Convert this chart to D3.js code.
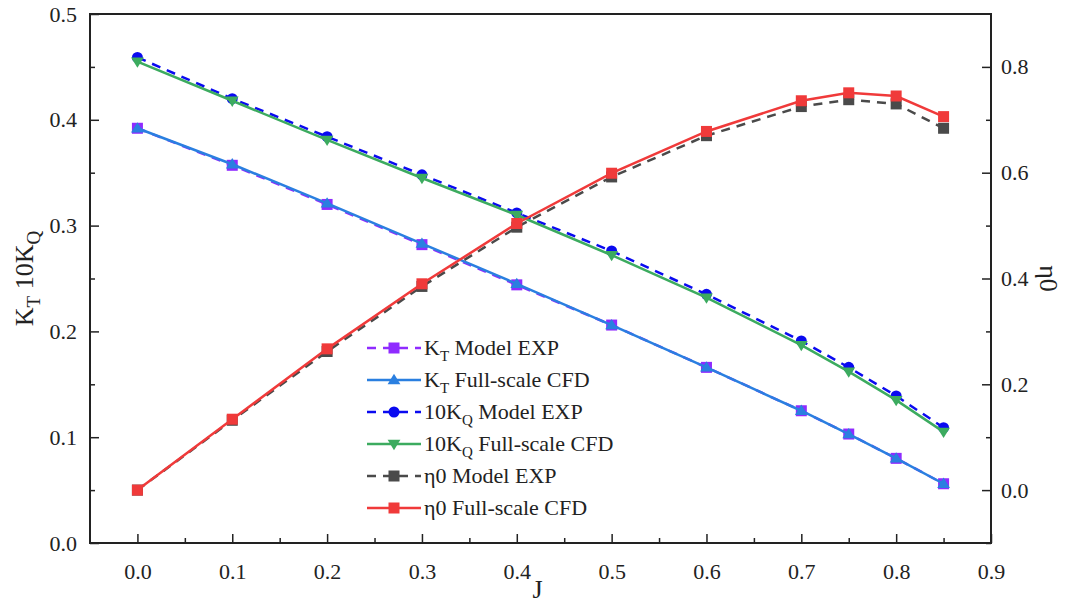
<!DOCTYPE html>
<html>
<head>
<meta charset="utf-8">
<script src="https://cdn.jsdelivr.net/npm/d3@7"></script>
</head>
<body style="margin:0;background:#fff">
<svg id="chart" width="1065" height="603"></svg>
<script>
// data
const J = [0, 0.1, 0.2, 0.3, 0.4, 0.5, 0.6, 0.7, 0.75, 0.8, 0.85];
const ktExp = [0.392, 0.357, 0.320, 0.282, 0.244, 0.206, 0.166, 0.125, 0.103, 0.080, 0.056];
const ktCfd = [0.392, 0.358, 0.321, 0.283, 0.245, 0.206, 0.166, 0.125, 0.103, 0.080, 0.056];
const kqExp = [0.459, 0.420, 0.384, 0.348, 0.312, 0.276, 0.235, 0.191, 0.166, 0.139, 0.109];
const kqCfd = [0.455, 0.418, 0.381, 0.345, 0.310, 0.272, 0.232, 0.187, 0.162, 0.135, 0.105];
const etaExp = [0.000, 0.132, 0.262, 0.385, 0.497, 0.592, 0.670, 0.725, 0.738, 0.730, 0.684];
const etaCfd = [0.000, 0.134, 0.267, 0.390, 0.504, 0.599, 0.678, 0.736, 0.751, 0.745, 0.706];

const xTicks = [0, 0.1, 0.2, 0.3, 0.4, 0.5, 0.6, 0.7, 0.8, 0.9];
const yTicks = [0, 0.1, 0.2, 0.3, 0.4, 0.5];
const y2Ticks = [0, 0.2, 0.4, 0.6, 0.8];

const series = [
  {label: ["K", "T", " Model EXP"], vals: ktExp, axis: "left", color: "#8f2bff", dash: "9,7", marker: "square"},
  {label: ["K", "T", " Full-scale CFD"], vals: ktCfd, axis: "left", color: "#2a7fe0", dash: null, marker: "up"},
  {label: ["10K", "Q", " Model EXP"], vals: kqExp, axis: "left", color: "#0a0af0", dash: "9,7", marker: "circle"},
  {label: ["10K", "Q", " Full-scale CFD"], vals: kqCfd, axis: "left", color: "#3cab5f", dash: null, marker: "down"},
  {label: ["\u03b70", "", " Model EXP"], vals: etaExp, axis: "right", color: "#4a4a4a", dash: "9,7", marker: "square"},
  {label: ["\u03b70", "", " Full-scale CFD"], vals: etaCfd, axis: "right", color: "#f03a3a", dash: null, marker: "square"}
];

const svg = d3.select("#chart");
const m = {left: 90, right: 991, top: 14, bottom: 543};

const x = d3.scaleLinear().domain([-0.05, 0.9]).range([m.left, m.right]);
const y = d3.scaleLinear().domain([0, 0.5]).range([m.bottom, m.top]);
const y2 = d3.scaleLinear().domain([-0.1, 0.9]).range([m.bottom, m.top]);

// axes (ticks inside)
const fmt = d3.format(".1f");
svg.append("g").attr("transform", `translate(0,${m.bottom})`)
  .call(d3.axisBottom(x).tickValues(xTicks).tickFormat(fmt).tickSizeInner(-9).tickSizeOuter(0).tickPadding(20));
svg.append("g").attr("transform", `translate(0,${m.bottom})`)
  .call(d3.axisBottom(x).tickValues(d3.range(0.05, 0.9, 0.1)).tickFormat("").tickSizeInner(-5).tickSizeOuter(0));
svg.append("g").attr("transform", `translate(${m.left},0)`)
  .call(d3.axisLeft(y).tickValues(yTicks).tickFormat(fmt).tickSizeInner(-9).tickSizeOuter(0).tickPadding(13));
svg.append("g").attr("transform", `translate(${m.left},0)`)
  .call(d3.axisLeft(y).tickValues(d3.range(0.05, 0.5, 0.1)).tickFormat("").tickSizeInner(-5).tickSizeOuter(0));
svg.append("g").attr("transform", `translate(${m.right},0)`)
  .call(d3.axisRight(y2).tickValues(y2Ticks).tickFormat(fmt).tickSizeInner(-9).tickSizeOuter(0).tickPadding(10));
svg.append("g").attr("transform", `translate(${m.right},0)`)
  .call(d3.axisRight(y2).tickValues([-0.1, 0.1, 0.3, 0.5, 0.7]).tickFormat("").tickSizeInner(-5).tickSizeOuter(0));

svg.selectAll(".domain").remove();
svg.selectAll(".tick line").attr("stroke", "#222").attr("stroke-width", 1.5);
svg.selectAll(".tick text").attr("font-size", 22).attr("fill", "#222");

// frame
svg.append("rect").attr("x", m.left).attr("y", m.top)
  .attr("width", m.right - m.left).attr("height", m.bottom - m.top)
  .attr("fill", "none").attr("stroke", "#222").attr("stroke-width", 2);

// axis titles
const lt = svg.append("text").attr("transform", `translate(33,${(m.top + m.bottom) / 2}) rotate(-90)`)
  .attr("text-anchor", "middle").attr("font-size", 26).attr("fill", "#222");
lt.append("tspan").text("K");
lt.append("tspan").text("T").attr("font-size", 19).attr("dy", 7);
lt.append("tspan").text(" 10K").attr("dy", -7);
lt.append("tspan").text("Q").attr("font-size", 19).attr("dy", 7);

svg.append("text").attr("x", (m.left + m.right) / 2 - 3).attr("y", 598)
  .attr("text-anchor", "middle").attr("font-size", 26).attr("fill", "#222").text("J");

svg.append("text").attr("transform", `translate(1040,${(m.top + m.bottom) / 2}) rotate(90)`)
  .attr("text-anchor", "middle").attr("font-size", 26).attr("fill", "#222").text("\u03b70");

// markers
function drawMarker(g, type, cx, cy, color, s) {
  if (type === "square") {
    g.append("rect").attr("x", cx - s / 2).attr("y", cy - s / 2).attr("width", s).attr("height", s).attr("fill", color);
  } else if (type === "circle") {
    g.append("circle").attr("cx", cx).attr("cy", cy).attr("r", s / 2).attr("fill", color);
  } else if (type === "up") {
    const h = s * 0.9;
    g.append("path").attr("d", `M${cx},${cy - h * 0.62}L${cx + s * 0.58},${cy + h * 0.42}L${cx - s * 0.58},${cy + h * 0.42}Z`).attr("fill", color);
  } else if (type === "down") {
    const h = s * 0.9;
    g.append("path").attr("d", `M${cx},${cy + h * 0.62}L${cx + s * 0.58},${cy - h * 0.42}L${cx - s * 0.58},${cy - h * 0.42}Z`).attr("fill", color);
  }
}

const plot = svg.append("g");
series.forEach(s => {
  const ys = s.axis === "left" ? y : y2;
  const line = d3.line().x((d, i) => x(J[i])).y(d => ys(d));
  plot.append("path").datum(s.vals).attr("d", line)
    .attr("fill", "none").attr("stroke", s.color).attr("stroke-width", 2.5)
    .attr("stroke-dasharray", s.dash);
  const mg = plot.append("g");
  s.vals.forEach((v, i) => drawMarker(mg, s.marker, x(J[i]), ys(v), s.color, 11));
});

// legend
const leg = svg.append("g").attr("transform", "translate(367,348)");
series.forEach((s, i) => {
  const row = leg.append("g").attr("transform", `translate(0,${i * 32})`);
  row.append("line").attr("x1", 0).attr("x2", 54).attr("y1", 0).attr("y2", 0)
    .attr("stroke", s.color).attr("stroke-width", 2.5).attr("stroke-dasharray", s.dash);
  drawMarker(row, s.marker, 27, 0, s.color, 11);
  const t = row.append("text").attr("x", 57).attr("y", 7).attr("font-size", 22).attr("fill", "#222");
  t.append("tspan").text(s.label[0]);
  if (s.label[1]) {
    t.append("tspan").text(s.label[1]).attr("font-size", 15).attr("dy", 6);
    t.append("tspan").text(s.label[2]).attr("dy", -6);
  } else {
    t.append("tspan").text(s.label[2]);
  }
});

// serif everywhere
svg.selectAll("text").style("font-family", '"Liberation Serif"');
</script>
</body>
</html>
